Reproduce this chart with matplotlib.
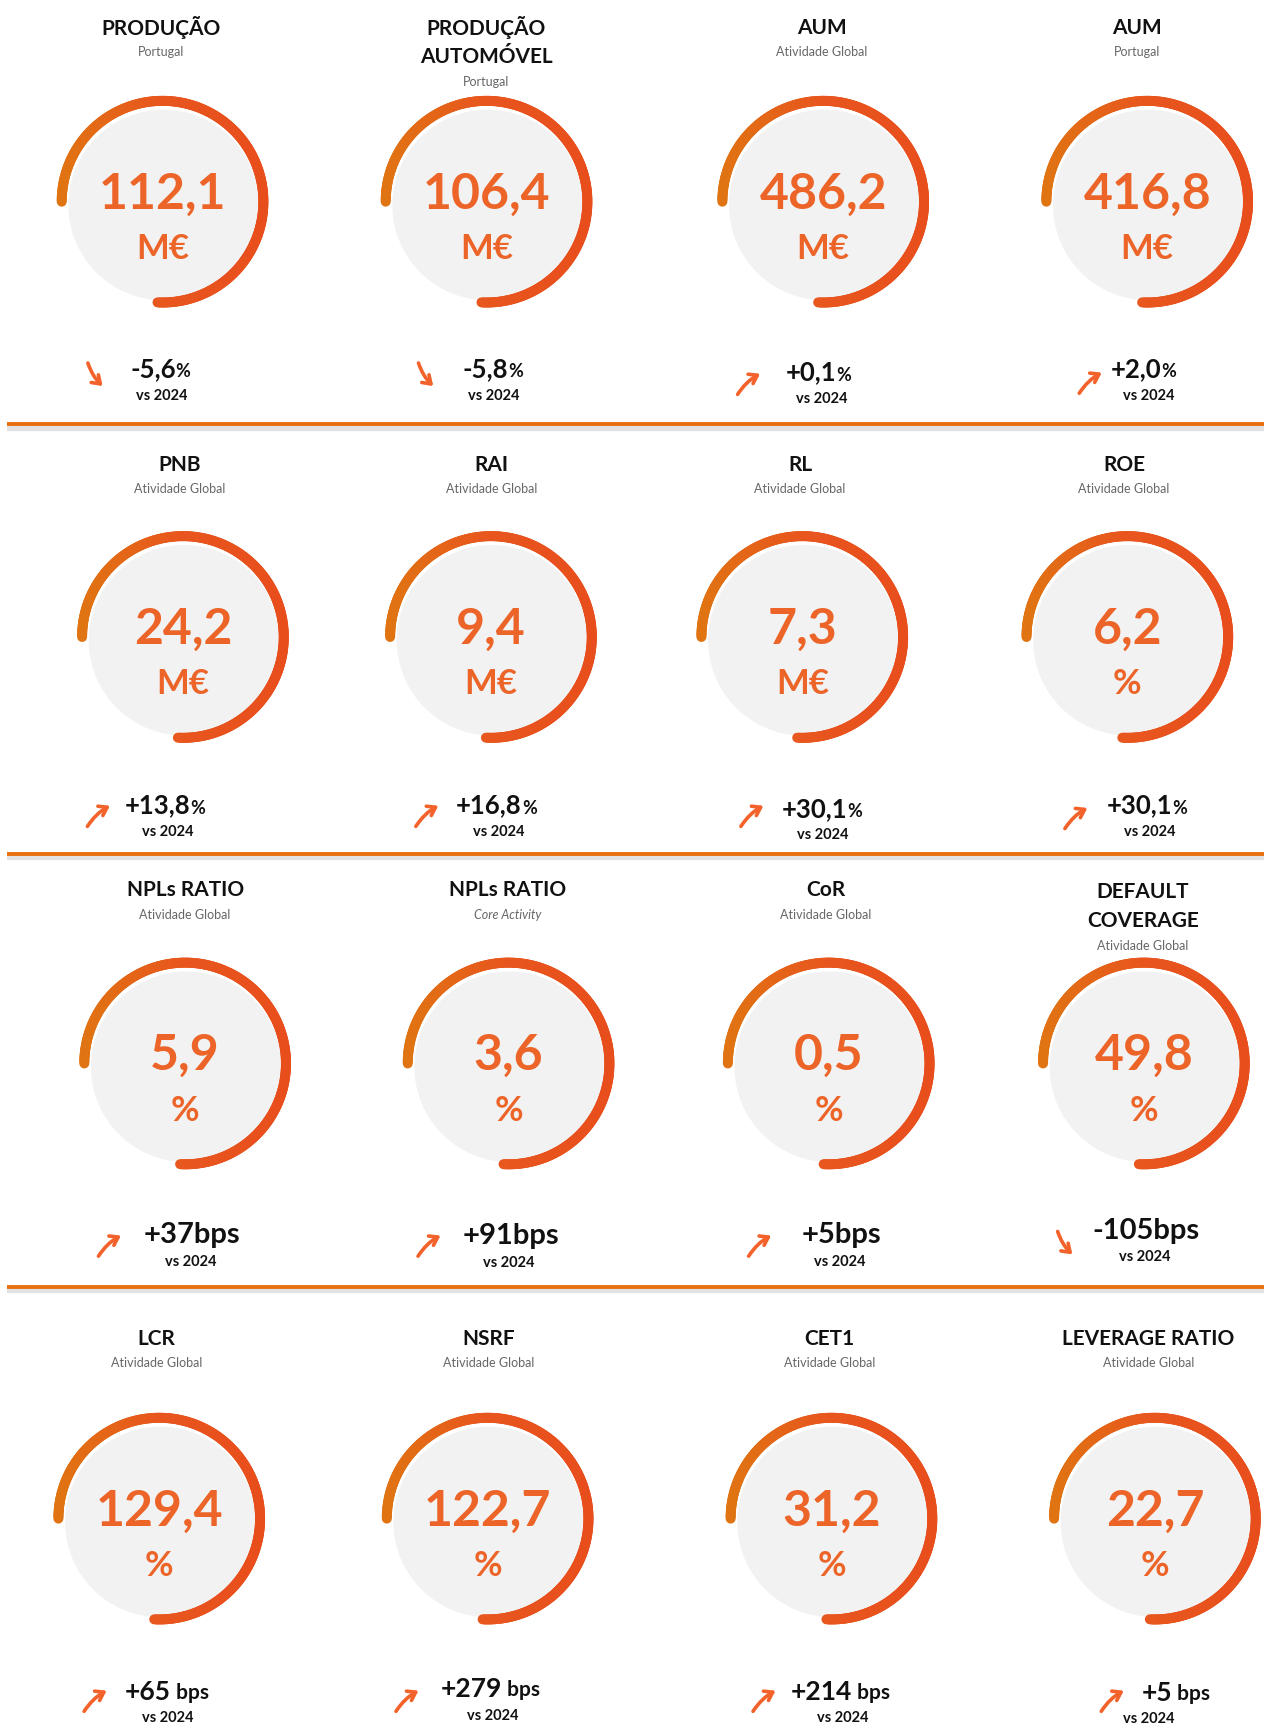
import numpy as np
import matplotlib.pyplot as plt
from matplotlib.collections import LineCollection
from matplotlib.colors import LinearSegmentedColormap

plt.rcParams['font.family'] = ['Lato', 'DejaVu Sans']

# ---- data ----
titles = ["PRODUÇÃO", "PRODUÇÃO\nAUTOMÓVEL", "AUM", "AUM",
          "PNB", "RAI", "RL", "ROE",
          "NPLs RATIO", "NPLs RATIO", "CoR", "DEFAULT\nCOVERAGE",
          "LCR", "NSRF", "CET1", "LEVERAGE RATIO"]
subtitles = ["Portugal", "Portugal", "Atividade Global", "Portugal",
             "Atividade Global", "Atividade Global", "Atividade Global", "Atividade Global",
             "Atividade Global", "Core Activity", "Atividade Global", "Atividade Global",
             "Atividade Global", "Atividade Global", "Atividade Global", "Atividade Global"]
values = ["112,1", "106,4", "486,2", "416,8",
          "24,2", "9,4", "7,3", "6,2",
          "5,9", "3,6", "0,5", "49,8",
          "129,4", "122,7", "31,2", "22,7"]
units = ["M€", "M€", "M€", "M€",
         "M€", "M€", "M€", "%",
         "%", "%", "%", "%",
         "%", "%", "%", "%"]
changes = ["-5,6", "-5,8", "+0,1", "+2,0",
           "+13,8", "+16,8", "+30,1", "+30,1",
           "+37bps", "+91bps", "+5bps", "-105bps",
           "+65", "+279", "+214", "+5"]
change_suffix = ["%", "%", "%", "%",
                 "%", "%", "%", "%",
                 "", "", "", "",
                 " bps", " bps", " bps", " bps"]
going_up = [False, False, True, True,
            True, True, True, True,
            True, True, True, False,
            True, True, True, True]

# ---- layout (in 1147 x 1568 reference units) ----
gauge_x = [147.5, 441.5, 747, 1041,
           166, 445.5, 728, 1023,
           168, 461.5, 752, 1038,
           144.5, 442.5, 754.5, 1048]
gauge_y = [183, 183, 183, 183,
           578, 578, 578, 578,
           965, 965, 965, 965,
           1378, 1378, 1378, 1378]
title_x = [146, 441, 746, 1032,
           163, 446, 726, 1020,
           168, 461, 749, 1037,
           142, 443, 753, 1042]
title_y = [25, 25, 25, 25,
           422, 422, 422, 422,
           808, 808, 808, 809,
           1215, 1215, 1215, 1215]
chg_x = [118, 420, 713, 1008,
         113, 414, 709, 1004,
         130, 420, 727, 991,
         113, 400, 718, 1036]
chg_y = [335, 335, 338, 335,
         731, 731, 734, 731,
         1121, 1122, 1121, 1117,
         1535, 1533, 1535, 1536]
chg_size = [18.5, 18.5, 18.5, 18.5,
            18.5, 18.5, 18.5, 18.5,
            21, 21, 21, 21,
            19, 19, 19, 19]
vs_x = [147, 448, 746, 1042,
        152, 453, 747, 1043,
        173, 462, 762, 1039,
        152, 447, 765, 1042]
arrow_x = [87, 387, 680, 990,
           90, 388, 683, 977,
           100, 390, 690, 967,
           87, 370, 694, 1010]
arrow_y = [340, 340, 348, 347,
           740, 740, 740, 742,
           1130, 1130, 1130, 1128,
           1543, 1543, 1543, 1543]
separators = [385, 775, 1168]

W, H = 1147, 1568
R = 91.5
ORANGE = "#EC6428"
arc_cmap = LinearSegmentedColormap.from_list("arc", ["#E07412", "#E8561E", "#E84E1C"])

fig = plt.figure(figsize=(12.64, 17.28), dpi=100)
ax = fig.add_axes([0, 0, 1, 1])
ax.set_xlim(0, W)
ax.set_ylim(H, 0)
ax.axis('off')

for y in separators:
    ax.plot([6, W], [y + 3, y + 3], color="#CFCFCF", lw=4.5, alpha=0.6, solid_capstyle='butt', zorder=1)
    ax.plot([6, W], [y, y], color="#E8700F", lw=2.8, solid_capstyle='butt', zorder=2)

for i in range(16):
    cx, cy = gauge_x[i], gauge_y[i]
    # grey disk
    ax.add_patch(plt.Circle((cx + 1, cy + 3), R - 5, color="#F2F2F2", lw=0, zorder=2))
    # gradient arc, from 9 o'clock clockwise to 6 o'clock
    th = np.linspace(np.pi, -np.pi / 2 - 0.05, 240)
    px = cx + R * np.cos(th)
    py = cy - R * np.sin(th)
    pts = np.column_stack([px, py]).reshape(-1, 1, 2)
    segs = np.concatenate([pts[:-1], pts[1:]], axis=1)
    lc = LineCollection(segs, cmap=arc_cmap, linewidths=7.2, capstyle='round', zorder=3)
    lc.set_array((px[:-1] - (cx - R)) / (2 * R))
    lc.set_clim(0, 1)
    ax.add_collection(lc)

    ax.text(cx, cy - 7, values[i], ha='center', va='center', fontsize=36,
            fontweight='bold', color=ORANGE, zorder=4)
    ax.text(cx, cy + 43, units[i], ha='center', va='center', fontsize=25,
            fontweight='bold', color=ORANGE, zorder=4)

    # title + subtitle
    lines = titles[i].split("\n")
    for k, line in enumerate(lines):
        ax.text(title_x[i], title_y[i] + 27 * k, line, ha='center', va='center',
                fontsize=15, fontweight='bold', color="#111111")
    style = 'italic' if subtitles[i] == "Core Activity" else 'normal'
    ax.text(title_x[i], title_y[i] + 27 * (len(lines) - 1) + 22, subtitles[i],
            ha='center', va='center', fontsize=9, color="#666666", style=style)

    # variation vs 2024
    t = ax.text(chg_x[i], chg_y[i], changes[i], ha='left', va='center',
                fontsize=chg_size[i], fontweight='bold', color="#111111")
    if change_suffix[i]:
        fs = 13 if change_suffix[i] == "%" else 15
        ax.annotate(change_suffix[i], xy=(1, 0.04), xycoords=t, ha='left', va='bottom',
                    fontsize=fs, fontweight='bold', color="#111111")
    ax.text(vs_x[i], chg_y[i] + 24, "vs 2024", ha='center', va='center',
            fontsize=10.5, fontweight='bold', color="#111111")

    ax_, ay_ = arrow_x[i], arrow_y[i]
    if going_up[i]:
        start, end, rad = (ax_ - 12, ay_ + 12), (ax_ + 12, ay_ - 10), -0.15
    else:
        start, end, rad = (ax_ - 8, ay_ - 13), (ax_ + 8, ay_ + 12), 0.15
    ax.annotate("", xy=end, xytext=start,
                arrowprops=dict(arrowstyle="->,head_length=0.55,head_width=0.38",
                                color="#F2622A", lw=2.6,
                                connectionstyle=f"arc3,rad={rad}"))

fig.savefig("out.png", dpi=100)
